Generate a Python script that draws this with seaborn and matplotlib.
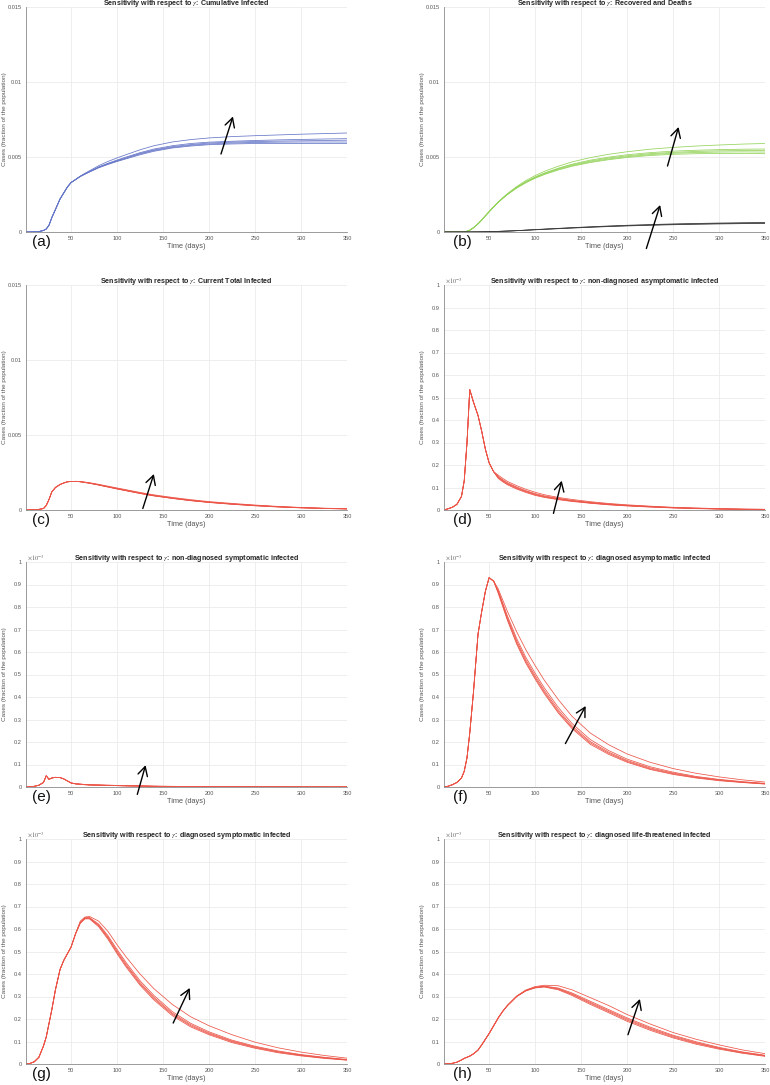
import pandas as pd
import seaborn as sns
import matplotlib.pyplot as plt

# Sensitivity runs w.r.t. gamma.
# All values are in units of 1e-3 (fraction of the population).
days_early = [1, 5, 10, 15, 20, 23, 26, 29, 33, 38, 42, 46, 50, 55]
days_late = [60, 65, 70, 80, 90, 100, 110, 125, 140, 160, 180, 200, 225, 250, 275, 300, 325, 350]

# (a) cumulative infected
cum_early = [0, 0, 0.01, 0.03, 0.1, 0.2, 0.45, 0.95, 1.5, 2.2, 2.6, 3.0, 3.3, 3.5]
cum_late = [
    [3.70, 3.85, 4.00, 4.28, 4.50, 4.70, 4.88, 5.15, 5.38, 5.60, 5.73, 5.82, 5.87, 5.90, 5.90, 5.90, 5.90, 5.90],
    [3.70, 3.86, 4.01, 4.30, 4.53, 4.73, 4.92, 5.20, 5.43, 5.64, 5.78, 5.87, 5.93, 5.97, 5.99, 6.00, 6.00, 6.00],
    [3.71, 3.87, 4.02, 4.31, 4.55, 4.76, 4.95, 5.24, 5.47, 5.69, 5.83, 5.93, 5.99, 6.03, 6.06, 6.08, 6.10, 6.12],
    [3.71, 3.88, 4.04, 4.34, 4.58, 4.80, 5.00, 5.29, 5.53, 5.75, 5.90, 5.99, 6.05, 6.10, 6.14, 6.17, 6.20, 6.22],
    [3.73, 3.91, 4.08, 4.42, 4.70, 4.94, 5.16, 5.48, 5.75, 6.00, 6.16, 6.27, 6.36, 6.42, 6.47, 6.52, 6.56, 6.60],
]

# (b) recovered and deaths
rec_early = [0, 0, 0, 0, 0, 0.01, 0.05, 0.12, 0.28, 0.55, 0.8, 1.08, 1.35, 1.68]
rec_late = [
    [1.98, 2.25, 2.50, 2.93, 3.28, 3.58, 3.83, 4.13, 4.38, 4.63, 4.82, 4.97, 5.10, 5.18, 5.22, 5.24, 5.24, 5.22],
    [1.98, 2.25, 2.51, 2.95, 3.31, 3.61, 3.86, 4.17, 4.42, 4.68, 4.87, 5.02, 5.16, 5.25, 5.30, 5.33, 5.34, 5.33],
    [1.99, 2.26, 2.52, 2.96, 3.33, 3.64, 3.90, 4.21, 4.47, 4.73, 4.93, 5.08, 5.22, 5.31, 5.37, 5.41, 5.43, 5.44],
    [1.99, 2.27, 2.53, 2.98, 3.36, 3.67, 3.93, 4.25, 4.52, 4.79, 4.99, 5.15, 5.29, 5.39, 5.45, 5.49, 5.52, 5.53],
    [2.00, 2.29, 2.56, 3.03, 3.43, 3.76, 4.04, 4.38, 4.67, 4.96, 5.18, 5.35, 5.52, 5.64, 5.73, 5.80, 5.86, 5.90],
]
dead_early = [0, 0, 0, 0, 0, 0.001, 0.002, 0.003, 0.005, 0.008, 0.012, 0.018, 0.024, 0.032]
dead_late = [
    [0.038, 0.048, 0.059, 0.086, 0.114, 0.147, 0.176, 0.219, 0.262, 0.314, 0.362, 0.405, 0.448, 0.486, 0.515, 0.539, 0.558, 0.573],
    [0.040, 0.050, 0.062, 0.090, 0.120, 0.155, 0.185, 0.230, 0.275, 0.330, 0.380, 0.425, 0.470, 0.510, 0.540, 0.565, 0.585, 0.600],
    [0.042, 0.053, 0.065, 0.094, 0.126, 0.163, 0.194, 0.242, 0.289, 0.347, 0.400, 0.447, 0.495, 0.537, 0.569, 0.596, 0.617, 0.633],
]

# (c) current total infected
tot_early = [0, 0.01, 0.02, 0.04, 0.1, 0.3, 0.7, 1.2, 1.5, 1.7, 1.8, 1.88, 1.9, 1.91]
tot_late = [
    [1.88, 1.83, 1.78, 1.66, 1.53, 1.40, 1.28, 1.10, 0.94, 0.77, 0.62, 0.50, 0.38, 0.28, 0.20, 0.14, 0.10, 0.07],
    [1.88, 1.84, 1.79, 1.67, 1.54, 1.41, 1.29, 1.11, 0.95, 0.78, 0.63, 0.51, 0.39, 0.29, 0.21, 0.15, 0.10, 0.07],
    [1.89, 1.84, 1.79, 1.68, 1.55, 1.42, 1.30, 1.12, 0.96, 0.79, 0.64, 0.52, 0.40, 0.30, 0.22, 0.15, 0.11, 0.08],
    [1.89, 1.85, 1.80, 1.69, 1.56, 1.44, 1.32, 1.14, 0.98, 0.80, 0.65, 0.53, 0.41, 0.31, 0.22, 0.16, 0.11, 0.08],
    [1.90, 1.86, 1.82, 1.71, 1.59, 1.47, 1.35, 1.17, 1.01, 0.84, 0.69, 0.56, 0.44, 0.33, 0.24, 0.17, 0.12, 0.09],
]

# (d) non-diagnosed asymptomatic
nda_early = [0, 0.005, 0.012, 0.025, 0.06, 0.13, 0.3, 0.535, 0.48, 0.42, 0.35, 0.27, 0.21, 0.17]
nda_late = [
    [0.140, 0.125, 0.112, 0.093, 0.078, 0.065, 0.056, 0.046, 0.038, 0.030, 0.023, 0.018, 0.013, 0.009, 0.006, 0.004, 0.003, 0.002],
    [0.143, 0.128, 0.115, 0.096, 0.081, 0.068, 0.058, 0.048, 0.040, 0.031, 0.024, 0.019, 0.014, 0.010, 0.007, 0.005, 0.003, 0.002],
    [0.146, 0.131, 0.118, 0.099, 0.083, 0.070, 0.060, 0.050, 0.041, 0.032, 0.025, 0.020, 0.015, 0.010, 0.007, 0.005, 0.003, 0.002],
    [0.149, 0.134, 0.121, 0.102, 0.086, 0.073, 0.063, 0.052, 0.043, 0.034, 0.027, 0.021, 0.016, 0.011, 0.008, 0.005, 0.004, 0.003],
    [0.155, 0.140, 0.127, 0.108, 0.092, 0.079, 0.068, 0.056, 0.047, 0.037, 0.029, 0.023, 0.017, 0.012, 0.009, 0.006, 0.004, 0.003],
]

# (e) non-diagnosed symptomatic
nds_early = [0, 0.001, 0.003, 0.008, 0.02, 0.05, 0.034, 0.04, 0.043, 0.042, 0.036, 0.027, 0.018, 0.014]
nds_late = [
    [0.012, 0.010, 0.009, 0.008, 0.007, 0.006, 0.005, 0.004, 0.003, 0.002, 0.0015, 0.001, 0.0008, 0.0006, 0.0004, 0.0003, 0.0002, 0.0002],
    [0.012, 0.010, 0.009, 0.008, 0.007, 0.006, 0.005, 0.004, 0.003, 0.002, 0.0016, 0.0011, 0.0009, 0.0006, 0.0005, 0.0003, 0.0002, 0.0002],
    [0.012, 0.011, 0.009, 0.008, 0.007, 0.006, 0.005, 0.004, 0.003, 0.0023, 0.0017, 0.0012, 0.0009, 0.0007, 0.0005, 0.0003, 0.0002, 0.0002],
    [0.013, 0.011, 0.010, 0.009, 0.008, 0.007, 0.006, 0.005, 0.0035, 0.0026, 0.0018, 0.0013, 0.0009, 0.0007, 0.0005, 0.0004, 0.0003, 0.0002],
    [0.013, 0.011, 0.010, 0.009, 0.008, 0.007, 0.006, 0.005, 0.004, 0.003, 0.002, 0.0015, 0.001, 0.0008, 0.0006, 0.0004, 0.0003, 0.0002],
]

# (f) diagnosed asymptomatic
da_early = [0, 0.003, 0.01, 0.02, 0.04, 0.07, 0.13, 0.24, 0.42, 0.68, 0.78, 0.87, 0.93, 0.915]
da_late = [
    [0.860, 0.800, 0.740, 0.635, 0.550, 0.480, 0.415, 0.330, 0.260, 0.190, 0.145, 0.110, 0.078, 0.056, 0.040, 0.028, 0.020, 0.013],
    [0.865, 0.805, 0.745, 0.642, 0.557, 0.487, 0.422, 0.336, 0.266, 0.196, 0.150, 0.114, 0.081, 0.059, 0.042, 0.030, 0.021, 0.014],
    [0.868, 0.810, 0.752, 0.650, 0.565, 0.495, 0.430, 0.344, 0.273, 0.202, 0.155, 0.118, 0.085, 0.062, 0.044, 0.032, 0.022, 0.015],
    [0.872, 0.816, 0.760, 0.660, 0.576, 0.506, 0.441, 0.355, 0.283, 0.211, 0.162, 0.124, 0.090, 0.066, 0.047, 0.034, 0.024, 0.016],
    [0.880, 0.830, 0.780, 0.690, 0.610, 0.540, 0.475, 0.390, 0.315, 0.240, 0.188, 0.147, 0.110, 0.082, 0.061, 0.045, 0.032, 0.022],
]

# (g) diagnosed symptomatic
ds_early = [0, 0.002, 0.01, 0.03, 0.08, 0.12, 0.18, 0.24, 0.33, 0.42, 0.46, 0.49, 0.52, 0.58]
ds_late = [
    [0.625, 0.645, 0.645, 0.610, 0.555, 0.490, 0.430, 0.350, 0.285, 0.215, 0.165, 0.130, 0.095, 0.070, 0.050, 0.036, 0.025, 0.017],
    [0.627, 0.647, 0.647, 0.614, 0.560, 0.496, 0.436, 0.356, 0.291, 0.221, 0.170, 0.134, 0.099, 0.073, 0.053, 0.038, 0.027, 0.018],
    [0.628, 0.648, 0.649, 0.618, 0.565, 0.502, 0.442, 0.362, 0.297, 0.226, 0.175, 0.138, 0.102, 0.076, 0.055, 0.040, 0.028, 0.019],
    [0.630, 0.650, 0.651, 0.622, 0.571, 0.509, 0.450, 0.370, 0.305, 0.233, 0.181, 0.143, 0.106, 0.079, 0.058, 0.042, 0.030, 0.020],
    [0.635, 0.653, 0.656, 0.635, 0.590, 0.530, 0.475, 0.400, 0.335, 0.265, 0.210, 0.170, 0.130, 0.097, 0.072, 0.053, 0.038, 0.026],
]

# (h) diagnosed life-threatened
lt_early = [0, 0.001, 0.003, 0.008, 0.018, 0.025, 0.03, 0.035, 0.045, 0.062, 0.085, 0.11, 0.135, 0.17]
lt_late = [
    [0.205, 0.235, 0.260, 0.300, 0.325, 0.338, 0.342, 0.330, 0.305, 0.265, 0.228, 0.190, 0.150, 0.116, 0.088, 0.066, 0.048, 0.034],
    [0.205, 0.235, 0.260, 0.300, 0.326, 0.339, 0.344, 0.333, 0.309, 0.270, 0.233, 0.195, 0.155, 0.120, 0.092, 0.069, 0.050, 0.036],
    [0.205, 0.235, 0.260, 0.300, 0.326, 0.340, 0.345, 0.335, 0.312, 0.274, 0.237, 0.200, 0.159, 0.124, 0.095, 0.071, 0.052, 0.037],
    [0.205, 0.235, 0.260, 0.301, 0.327, 0.341, 0.346, 0.338, 0.316, 0.279, 0.242, 0.205, 0.164, 0.128, 0.099, 0.074, 0.054, 0.039],
    [0.205, 0.235, 0.261, 0.302, 0.329, 0.344, 0.350, 0.348, 0.330, 0.295, 0.260, 0.220, 0.178, 0.140, 0.110, 0.085, 0.063, 0.046],
]

BLUE, GREEN, DARK, RED = '#6676c8', '#94d35a', '#3c3c3c', '#ec5548'

# panel: letter, title, groups (early, late, colour), large y scale?, arrows (tail, head)
panels = [
    ('(a)', 'Cumulative Infected', [(cum_early, cum_late, BLUE)], True, [((213, 0.0052), (226, 0.0077))]),
    ('(b)', 'Recovered and Deaths', [(rec_early, rec_late, GREEN), (dead_early, dead_late, DARK)], True,
     [((244, 0.0044), (256, 0.0070)), ((221, -0.0011), (236, 0.0018))]),
    ('(c)', 'Current Total Infected', [(tot_early, tot_late, RED)], True, [((128, 0.0001), (140, 0.0024))]),
    ('(d)', 'non-diagnosed asymptomatic infected', [(nda_early, nda_late, RED)], False, [((120, -0.015), (129, 0.13))]),
    ('(e)', 'non-diagnosed symptomatic infected', [(nds_early, nds_late, RED)], False, [((122, -0.033), (131, 0.097))]),
    ('(f)', 'diagnosed asymptomatic infected', [(da_early, da_late, RED)], False, [((133, 0.193), (155, 0.36))]),
    ('(g)', 'diagnosed symptomatic infected', [(ds_early, ds_late, RED)], False, [((161, 0.182), (179, 0.338))]),
    ('(h)', 'diagnosed life-threatened infected', [(lt_early, lt_late, RED)], False, [((201, 0.13), (214, 0.289))]),
]

sns.set_theme(style='whitegrid')
plt.rcParams['font.family'] = ['Liberation Sans', 'DejaVu Sans']
plt.rcParams['mathtext.fontset'] = 'stix'
plt.rcParams['grid.color'] = '#ebebeb'
plt.rcParams['grid.linewidth'] = 0.6
plt.rcParams['axes.edgecolor'] = '#8a8a8a'
plt.rcParams['axes.linewidth'] = 0.6

fig = plt.figure(figsize=(7.7, 10.85), dpi=100)
W, H = 770.0, 1085.0
col_left = [26, 444]
row_top = [7, 285, 562, 839]
ax_w, ax_h = 321, 225

for k, (letter, title, groups, big, arrows) in enumerate(panels):
    r, c = divmod(k, 2)
    ax = fig.add_axes([col_left[c] / W, 1 - (row_top[r] + ax_h) / H, ax_w / W, ax_h / H])

    rows = []
    palette = {}
    for g, (early, late, col) in enumerate(groups):
        for i, curve in enumerate(late):
            name = f'{g}-{i}'
            palette[name] = col
            for d, v in zip(days_early + days_late, early + curve):
                rows.append({'day': d, 'value': v * 1e-3 if big else v, 'curve': name})
    df = pd.DataFrame(rows)
    sns.lineplot(data=df, x='day', y='value', hue='curve', palette=palette,
                 hue_order=list(palette.keys()), estimator=None, sort=False,
                 legend=False, lw=0.55, ax=ax)

    ax.set_xlim(1, 350)
    ax.set_xticks([50, 100, 150, 200, 250, 300, 350])
    if big:
        ax.set_ylim(0, 0.015)
        ax.set_yticks([0, 0.005, 0.01, 0.015])
        ax.set_yticklabels(['0', '0.005', '0.01', '0.015'])
    else:
        ax.set_ylim(0, 1)
        ticks = [i / 10 for i in range(11)]
        ax.set_yticks(ticks)
        ax.set_yticklabels(['0'] + [f'{t:g}' for t in ticks[1:-1]] + ['1'])
        ax.text(0.004, 1.0, r'$\times10^{-3}$', transform=ax.transAxes, ha='left', va='bottom',
                fontsize=4.6, color='#666666')

    ax.tick_params(axis='both', labelsize=4.1, colors='#8a8a8a', labelcolor='#555555',
                   direction='out', length=2, width=0.5, pad=1)
    sns.despine(ax=ax)
    ax.set_xlabel('Time (days)', fontsize=5.3, color='#555555', labelpad=1)
    ax.set_ylabel('Cases (fraction of the population)', fontsize=4.6, color='#555555')
    ax.yaxis.set_label_coords(-0.0592, 0.5)
    ax.set_title(r'Sensitivity with respect to $\gamma$: ' + title, fontsize=5.1,
                 fontweight='bold', pad=1.2)

    ax.text(0.019 if c == 0 else 0.028, -0.012, letter, transform=ax.transAxes,
            ha='left', va='top', fontsize=11, color='#111111')

    for tail, head in arrows:
        ax.annotate('', xy=head, xytext=tail, annotation_clip=False,
                    arrowprops=dict(arrowstyle='->,head_length=0.65,head_width=0.35',
                                    color='black', lw=1.0, mutation_scale=10,
                                    shrinkA=0, shrinkB=0))

fig.savefig('out.png', dpi=100)
